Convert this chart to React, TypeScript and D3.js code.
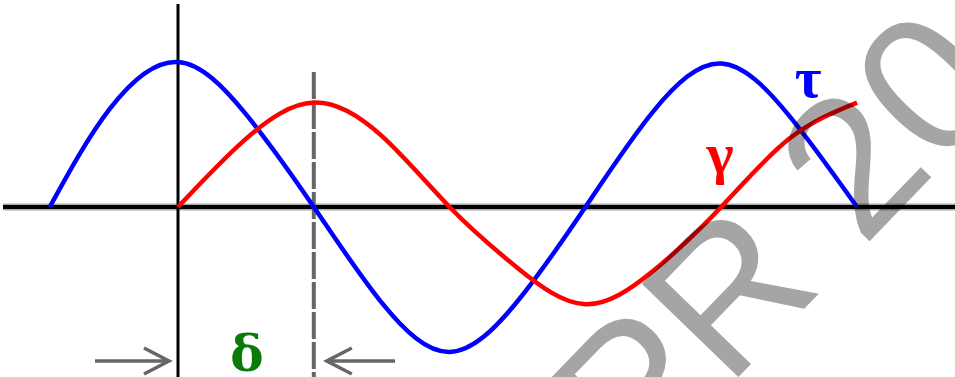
import React from "react";
import * as d3 from "d3";

// phase angle in degrees, amplitude relative to the tau peak
const tauAngles = [-85, -45, 0, 45, 90, 135, 180, 225, 270, 315, 360, 405, 450];
const tauValues = [0, 0.68, 1, 0.64, 0, -0.66, -1, -0.65, 0, 0.66, 0.99, 0.63, 0];

const gammaAngles = [0, 45, 90, 135, 180, 225, 270, 315, 360, 405, 450];
const gammaValues = [0, 0.47, 0.72, 0.49, 0, -0.42, -0.67, -0.44, 0, 0.47, 0.72];

const phaseLag = 90; // delta

const width = 955;
const height = 377;

const App = () => {
  const x = d3.scaleLinear().domain([0, 450]).range([178, 857]);
  const y = d3.scaleLinear().domain([-1, 1]).range([352, 62]);

  const line = d3
    .line<[number, number]>()
    .x(d => x(d[0]))
    .y(d => y(d[1]))
    .curve(d3.curveNatural);

  const tau = tauAngles.map((a, i) => [a, tauValues[i]] as [number, number]);
  const gamma = gammaAngles.map((a, i) => [a, gammaValues[i]] as [number, number]);

  const x0 = x(0);
  const xd = x(phaseLag);
  const yArrow = 361;
  const grey = "#666";

  return (
    <svg
      width={width}
      height={height}
      style={{ position: "absolute", left: 0, top: 0, background: "#fff" }}
    >
      {/* axes */}
      <line x1={3} x2={width} y1={y(0)} y2={y(0)} stroke="#aaa" strokeWidth={7} />
      <line x1={3} x2={width} y1={y(0)} y2={y(0)} stroke="#000" strokeWidth={4} />
      <line x1={x0} x2={x0} y1={4} y2={height} stroke="#000" strokeWidth={3} />

      {/* delta marker */}
      <line
        x1={xd}
        x2={xd}
        y1={72}
        y2={height}
        stroke={grey}
        strokeWidth={4}
        strokeDasharray="27 3"
      />

      <path d={line(tau) || ""} fill="none" stroke="#0000ff" strokeWidth={4.5} />
      <path d={line(gamma) || ""} fill="none" stroke="#ff0000" strokeWidth={4.5} />

      <text
        x={808}
        y={97}
        textAnchor="middle"
        fill="#0000ff"
        fontFamily="'Liberation Serif', serif"
        fontWeight="bold"
        fontSize={58}
      >
        τ
      </text>
      <text
        x={720}
        y={173}
        textAnchor="middle"
        fill="#ff0000"
        fontFamily="'Liberation Serif', serif"
        fontWeight="bold"
        fontSize={58}
      >
        γ
      </text>

      {/* arrows */}
      <g stroke={grey} strokeWidth={3.5} fill="none">
        <line x1={95} x2={x0 - 9} y1={yArrow} y2={yArrow} />
        <polyline points={`${x0 - 34},${yArrow - 13} ${x0 - 9},${yArrow} ${x0 - 34},${yArrow + 13}`} />
        <line x1={xd + 13} x2={395} y1={yArrow} y2={yArrow} />
        <polyline points={`${xd + 38},${yArrow - 13} ${xd + 13},${yArrow} ${xd + 38},${yArrow + 13}`} />
      </g>
      <text
        x={247}
        y={371}
        textAnchor="middle"
        fill="#0a7a0a"
        fontFamily="'DejaVu Serif', serif"
        fontWeight="bold"
        fontSize={50}
      >
        δ
      </text>

      {/* watermark */}
      <text
        x={637}
        y={482}
        transform="rotate(-46, 637, 482)"
        fill="#a5a5a5"
        fontFamily="'Liberation Sans', Arial, sans-serif"
        fontSize={195}
        style={{ mixBlendMode: "multiply" }}
      >
        PR 20
      </text>
    </svg>
  );
};

export default App;
